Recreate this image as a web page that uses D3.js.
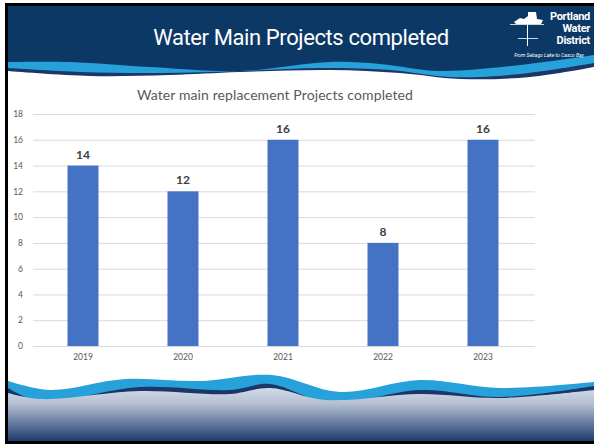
<!DOCTYPE html>
<html>
<head>
<meta charset="utf-8">
<script src="https://cdn.jsdelivr.net/npm/d3@7"></script>
<style>
  html, body { margin: 0; padding: 0; background: #fff; }
  svg { display: block; }
</style>
</head>
<body>
<svg width="594" height="445"></svg>
<script>
const years = ['2019', '2020', '2021', '2022', '2023']
const projects = [14, 12, 16, 8, 16]
const yTicks = [0, 2, 4, 6, 8, 10, 12, 14, 16, 18]

const slideTitle = 'Water Main Projects completed'
const chartTitle = 'Water main replacement Projects completed'

const svg = d3.select('svg')
const navy = '#0c3866'
const lightBlue = '#27a1d9'
const darkBand = '#1b3667'

const defs = svg.append('defs')
const grad = defs.append('linearGradient')
    .attr('id', 'seaGrad').attr('x1', 0).attr('y1', 0).attr('x2', 0).attr('y2', 1)
grad.append('stop').attr('offset', '0%').attr('stop-color', '#d3dbe8')
grad.append('stop').attr('offset', '30%').attr('stop-color', '#b4bfd2')
grad.append('stop').attr('offset', '100%').attr('stop-color', '#1e3b6e')

// slide frame
svg.append('rect').attr('x', 5).attr('y', 3).attr('width', 589).attr('height', 441).attr('fill', '#000')
svg.append('rect').attr('x', 8).attr('y', 6).attr('width', 586).attr('height', 435).attr('fill', '#fff')

const wave = d3.line().curve(d3.curveCatmullRom.alpha(0.5))

// header waves: each shape is a wavy top edge filled down
function band(points, bottom, fill) {
    svg.append('path')
        .attr('d', wave(points) + 'L594,' + bottom + 'L8,' + bottom + 'Z')
        .attr('fill', fill)
}
svg.append('rect').attr('x', 8).attr('y', 6).attr('width', 586).attr('height', 80).attr('fill', navy)
band([[8, 62], [70, 62], [150, 67], [240, 71], [330, 62], [380, 64], [440, 71], [520, 65], [594, 55]], 100, lightBlue)
band([[8, 68], [80, 72], [160, 73], [240, 71], [320, 68], [390, 70], [450, 77], [520, 74], [594, 63]], 100, darkBand)
band([[8, 71], [90, 76], [170, 75], [240, 72], [330, 70], [400, 73], [460, 79], [530, 77], [594, 67]], 100, '#fff')

svg.append('text')
    .attr('x', 301).attr('y', 45)
    .attr('text-anchor', 'middle')
    .attr('font-family', 'Roboto, sans-serif')
    .attr('font-size', 22)
    .attr('letter-spacing', -0.4)
    .attr('fill', '#fff')
    .text(slideTitle)

// logo
const logo = svg.append('g').attr('fill', '#fff')
logo.append('path').attr('d', 'M514,22 L520,18 L524,19 L528,16 L528,12 L536,12 L537,19 L543,20 L541,24 L516,24 Z')
logo.append('rect').attr('x', 527).attr('y', 24).attr('width', 1).attr('height', 22)
logo.append('rect').attr('x', 518).attr('y', 38).attr('width', 20).attr('height', 0.8)
logo.append('rect').attr('x', 510).attr('y', 24).attr('width', 34).attr('height', 0.8)
;['Portland', 'Water', 'District'].forEach((t, i) => {
    logo.append('text')
        .attr('x', 590).attr('y', 20 + i * 12)
        .attr('text-anchor', 'end')
        .attr('font-family', 'Roboto, sans-serif')
        .attr('font-weight', 'bold')
        .attr('font-size', 11)
        .attr('letter-spacing', -0.3)
        .text(t)
})
logo.append('text')
    .attr('x', 549).attr('y', 57)
    .attr('text-anchor', 'middle')
    .attr('font-family', 'Roboto, sans-serif')
    .attr('font-style', 'italic')
    .attr('font-size', 5)
    .text('From  Sebago  Lake to Casco Bay')

// chart
const x = d3.scaleBand().domain(years).range([33, 533]).paddingInner(0.69).paddingOuter(0.345)
const y = d3.scaleLinear().domain([0, 18]).range([346, 114])

svg.append('text')
    .attr('x', 275).attr('y', 100)
    .attr('text-anchor', 'middle')
    .attr('font-family', 'Lato, sans-serif')
    .attr('font-size', 14)
    .attr('letter-spacing', 0.1)
    .attr('fill', '#595959')
    .text(chartTitle)

const yAxis = svg.append('g')
    .attr('transform', 'translate(33,0)')
    .call(d3.axisLeft(y).tickValues(yTicks).tickSize(-502).tickPadding(10))
yAxis.select('.domain').remove()
yAxis.selectAll('line').attr('stroke', '#d9d9d9')
yAxis.selectAll('text').attr('fill', '#595959').attr('font-size', 8.5).attr('font-family', 'Lato, sans-serif')

svg.append('g').selectAll('rect')
    .data(projects)
    .join('rect')
    .attr('x', (d, i) => x(years[i]))
    .attr('y', d => y(d))
    .attr('width', x.bandwidth())
    .attr('height', d => y(0) - y(d))
    .attr('fill', '#4472c4')

svg.append('g').selectAll('text')
    .data(projects)
    .join('text')
    .attr('x', (d, i) => x(years[i]) + x.bandwidth() / 2)
    .attr('y', d => y(d) - 7)
    .attr('text-anchor', 'middle')
    .attr('font-family', 'Lato, sans-serif')
    .attr('font-weight', 'bold')
    .attr('font-size', 12)
    .attr('fill', '#404040')
    .text(d => d)

const xAxis = svg.append('g')
    .attr('transform', 'translate(0,346)')
    .call(d3.axisBottom(x).tickSize(0).tickPadding(8))
xAxis.select('.domain').attr('stroke', '#d9d9d9')
xAxis.selectAll('text').attr('fill', '#595959').attr('font-size', 8.5).attr('font-family', 'Lato, sans-serif')

// bottom sea
function sea(points, fill) {
    svg.append('path')
        .attr('d', wave(points) + 'L594,441L8,441Z')
        .attr('fill', fill)
}
sea([[8, 381], [50, 390], [125, 379], [200, 381], [272, 375], [340, 392], [420, 380], [500, 388], [594, 382]], lightBlue)
sea([[8, 388], [40, 401], [140, 387], [230, 390], [270, 384], [330, 403], [420, 390], [500, 397], [594, 386]], darkBand)
sea([[8, 393], [40, 399], [140, 391], [230, 394], [270, 388], [325, 400], [420, 394], [500, 398], [594, 390]], 'url(#seaGrad)')
</script>
</body>
</html>
